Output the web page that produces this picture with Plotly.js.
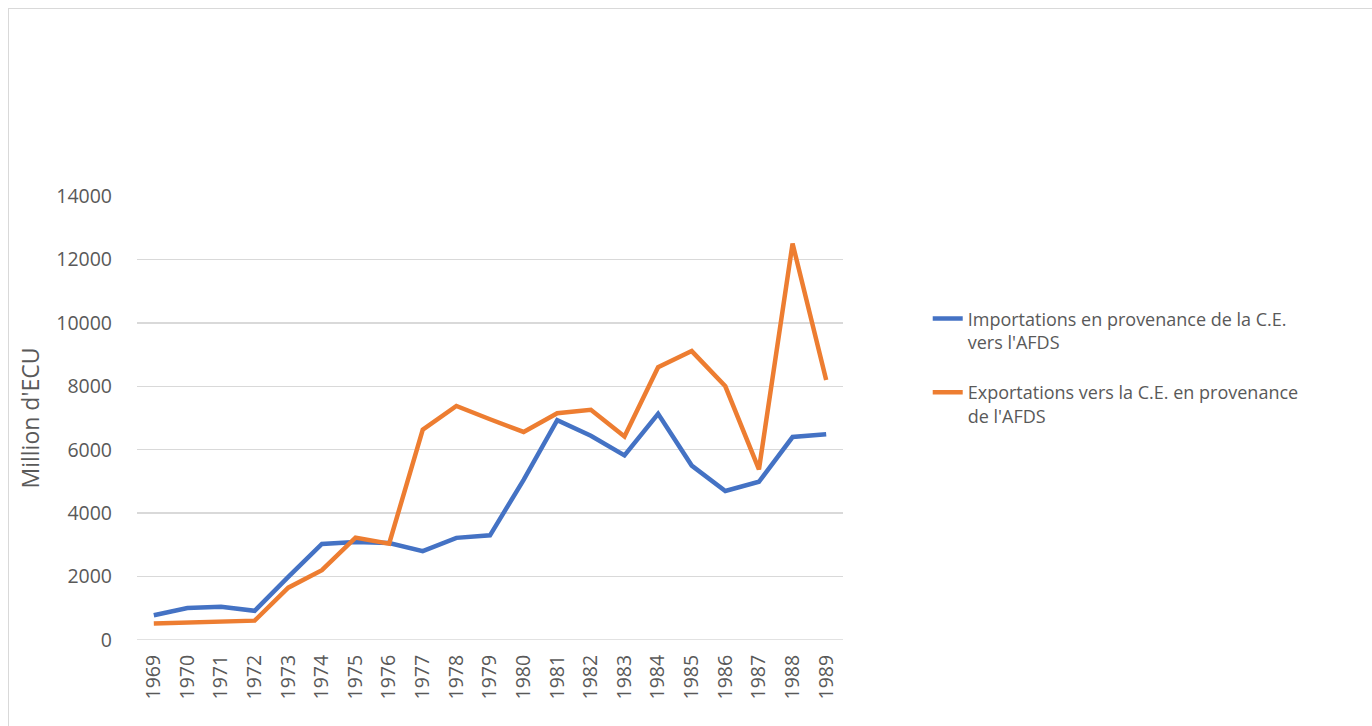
<!DOCTYPE html>
<html>
<head>
<meta charset="utf-8">
<script src="https://cdn.plot.ly/plotly-3.0.1.min.js"></script>
<style>
  html, body { margin: 0; padding: 0; background: #fff; }
  #chart { width: 1372px; height: 726px; }
  #frame { position: absolute; left: 8px; top: 8px; width: 1400px; height: 760px;
           border: 1px solid #D9D9D9; pointer-events: none; }
</style>
</head>
<body>
<div id="chart"></div>
<div id="frame"></div>
<script>
const years = ['1969','1970','1971','1972','1973','1974','1975','1976','1977','1978','1979',
               '1980','1981','1982','1983','1984','1985','1986','1987','1988','1989'];
const importations = [780, 1010, 1050, 920, 1990, 3030, 3090, 3060, 2800, 3220, 3300,
                      5050, 6930, 6440, 5820, 7130, 5500, 4700, 4990, 6400, 6490];
const exportations = [520, 560, 580, 610, 1650, 2200, 3230, 3040, 6630, 7380, 6960,
                      6560, 7150, 7260, 6420, 8600, 9110, 8000, 5380, 12500, 8200];
const seriesNames = ["Importations en provenance de la C.E.<br>vers l'AFDS",
                     "Exportations vers la C.E. en provenance<br>de l'AFDS"];

const txt = '#595959';
const font = "'Open Sans', 'Noto Sans', sans-serif";

const data = [
  { x: years, y: importations, name: seriesNames[0], type: 'scatter', mode: 'lines',
    legendgroup: 'a', line: { color: '#4472C4', width: 4.5 } },
  { x: years, y: exportations, name: seriesNames[1], type: 'scatter', mode: 'lines',
    legendgroup: 'b', line: { color: '#ED7D31', width: 4.5 } }
];

const layout = {
  width: 1372, height: 726,
  margin: { l: 137, r: 529, t: 196, b: 86 },
  paper_bgcolor: '#fff', plot_bgcolor: '#fff',
  font: { family: font, color: txt, size: 19 },
  showlegend: true,
  legend: {
    x: 1.12, y: 0.765, xanchor: 'left', yanchor: 'top', valign: 'top',
    font: { family: font, size: 18, color: txt },
    tracegroupgap: 24, bgcolor: 'rgba(0,0,0,0)', traceorder: 'grouped'
  },
  xaxis: {
    type: 'category', range: [-0.5, years.length - 0.5], tickangle: -90,
    showgrid: false, zeroline: false, showline: false,
    ticks: '', ticklabelstandoff: 10, tickfont: { family: font, size: 19.5, color: txt },
    automargin: false
  },
  yaxis: {
    range: [0, 14000], dtick: 2000, tick0: 0, tickformat: 'd',
    showgrid: true, gridcolor: '#D9D9D9', gridwidth: 1.5,
    zeroline: false, showline: false, ticks: '', ticklabelstandoff: 24,
    tickfont: { family: font, size: 19.5, color: txt },
    title: { text: "Million d'ECU", font: { family: font, size: 23, color: txt }, standoff: 10 },
    automargin: false
  },
  shapes: [{ type: 'line', xref: 'paper', yref: 'y', x0: 0, x1: 1, y0: 0, y1: 0,
             line: { color: '#D9D9D9', width: 1.5 }, layer: 'below' }]
};

Plotly.newPlot('chart', data, layout, { displayModeBar: false, staticPlot: true });
</script>
</body>
</html>
